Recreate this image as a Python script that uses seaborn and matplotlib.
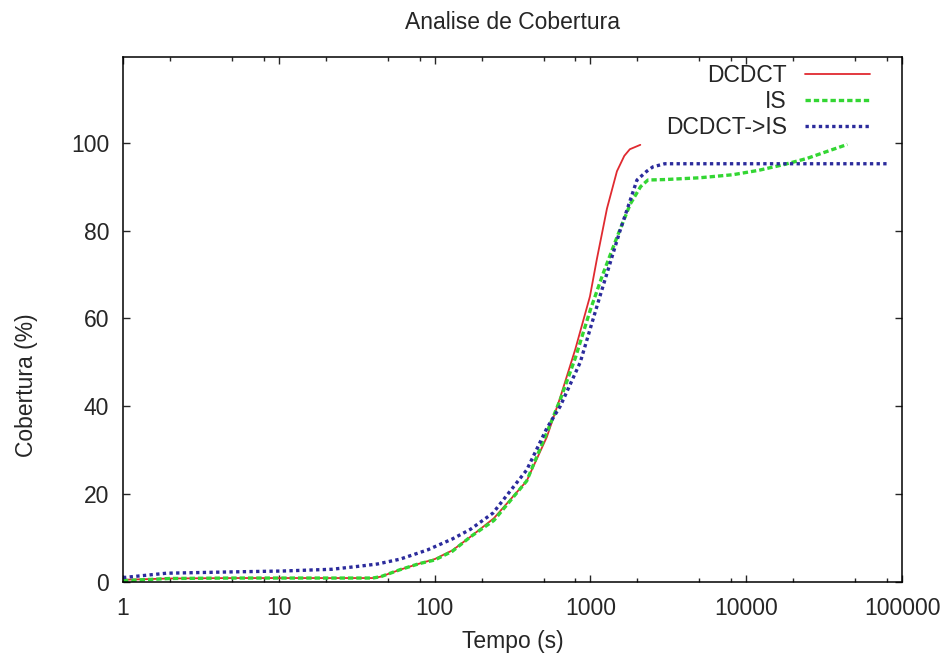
import matplotlib
matplotlib.use("Agg")
import matplotlib.pyplot as plt
import matplotlib.ticker as mticker
import seaborn as sns
import pandas as pd

# 시간(s) / 커버리지(%) 데이터
t_dcdct = [1, 2, 5, 10, 20, 40, 45, 60, 80, 100, 130, 170, 240, 390, 525, 640,
           800, 993, 1100, 1277, 1480, 1650, 1790, 2090]
y_dcdct = [0.5, 0.8, 0.9, 0.9, 0.9, 0.9, 1.2, 2.8, 4.2, 5.2, 7.2, 10.3, 14.5, 23,
           33, 42, 53, 65, 73.5, 85, 93.5, 97, 98.5, 99.5]

t_is = [1, 2, 5, 10, 20, 40, 45, 60, 80, 100, 130, 170, 240, 390, 525, 640, 800,
        1000, 1200, 1500, 1800, 2100, 2340, 3000, 5000, 8200, 12000, 17400, 24500,
        33000, 44600]
y_is = [0.3, 0.8, 0.9, 0.9, 0.9, 0.9, 1.2, 2.8, 4.2, 5.0, 7.0, 10.3, 14, 23, 34,
        41.5, 51, 62, 70, 79, 86, 90, 91.5, 91.6, 92, 92.7, 93.7, 95, 96.4, 98, 99.6]

t_dcdct_is = [1, 1.9, 5, 10.6, 22, 33, 43, 60, 90, 130, 170, 237, 390, 525, 640,
              860, 1150, 1550, 1990, 2300, 2520, 3000, 10000, 83000]
y_dcdct_is = [1.0, 2.0, 2.3, 2.5, 2.9, 3.6, 4.1, 5.2, 7.3, 9.8, 12.0, 15.7, 25.5,
              35, 40, 50, 65, 80, 91.5, 93.5, 94.5, 95.2, 95.2, 95.2]

series_names = ["DCDCT", "IS", "DCDCT->IS"]
x_ticks = [1, 10, 100, 1000, 10000, 100000]
x_tick_labels = ["1", "10", "100", "1000", "10000", "100000"]
y_ticks = [0, 20, 40, 60, 80, 100]

sns.set_style("ticks")
plt.rcParams['font.family'] = ['Liberation Sans', 'DejaVu Sans']
FS = 16.5

fig = plt.figure(figsize=(9.41, 6.58), dpi=100)
ax = fig.add_axes([0.1307, 0.1155, 0.8279, 0.7979])

# 시리즈별 스타일
styles = [
    dict(color='#e02a30', linewidth=1.3, linestyle='-'),
    dict(color='#33d633', linewidth=2.4, linestyle=(0, (1.6, 0.9))),
    dict(color='#2b2b9c', linewidth=2.4, linestyle=(0, (1.0, 1.0))),
]
data = [(t_dcdct, y_dcdct), (t_is, y_is), (t_dcdct_is, y_dcdct_is)]

for name, (tx, ty), st in zip(series_names, data, styles):
    df = pd.DataFrame({'Tempo': tx, 'Cobertura': ty})
    sns.lineplot(data=df, x='Tempo', y='Cobertura', ax=ax, label=name,
                 estimator=None, sort=False, **st)

ax.set_xscale('log')
ax.set_xlim(1, 100000)
ax.set_ylim(0, 119.5)
ax.set_xticks(x_ticks)
ax.set_xticklabels(x_tick_labels)
ax.xaxis.set_minor_locator(mticker.LogLocator(base=10, subs=(2, 5, 8)))
ax.xaxis.set_minor_formatter(mticker.NullFormatter())
ax.set_yticks(y_ticks)

for sp in ax.spines.values():
    sp.set_visible(True)
    sp.set_linewidth(1.1)
    sp.set_color('black')

ax.tick_params(which='both', direction='in', top=True, right=True,
               labelsize=FS)
ax.tick_params(axis='x', pad=11)
ax.tick_params(axis='y', pad=10)
ax.tick_params(which='major', length=5, width=1)
ax.tick_params(which='minor', length=3, width=1)

ax.set_title('Analise de Cobertura', fontsize=FS, pad=20)
ax.set_xlabel('Tempo (s)', fontsize=FS, labelpad=7)
ax.set_ylabel('Cobertura (%)', fontsize=FS)
ax.yaxis.set_label_coords(-0.109, 0.375)

leg = ax.legend(loc='upper right', bbox_to_anchor=(0.9705, 1.004),
                frameon=False, markerfirst=False, fontsize=FS,
                handlelength=2.84, handletextpad=0.79,
                labelspacing=0.12, borderaxespad=0.0)
for txt in leg.get_texts():
    txt.set_ha('right')
leg._legend_box.align = "right"

fig.savefig('out.png', dpi=100)
